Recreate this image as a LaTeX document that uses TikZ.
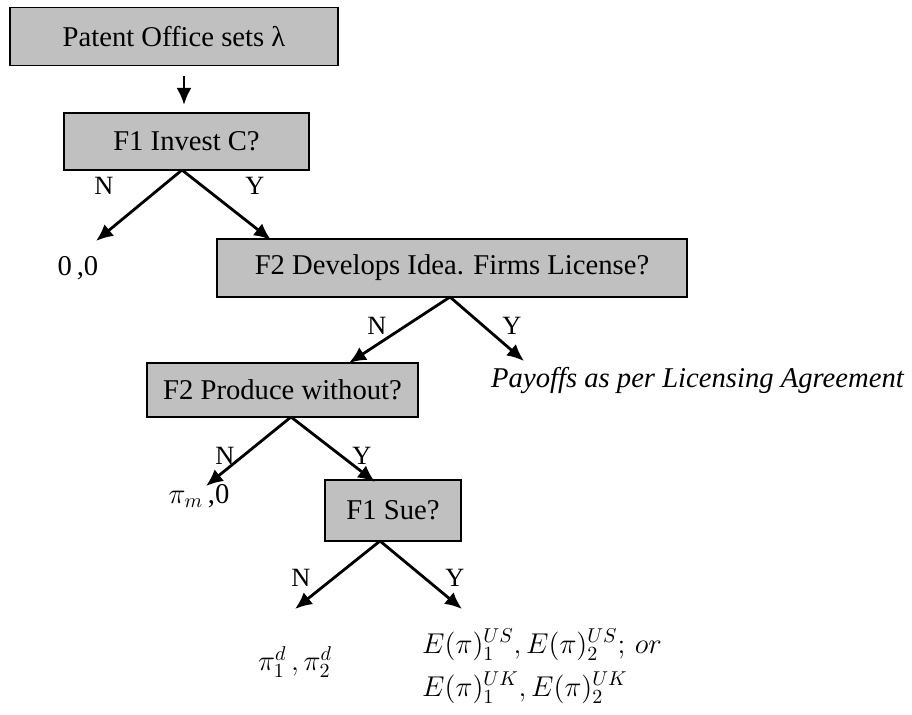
\documentclass[tikz,border=0pt]{standalone}
\usepackage{fix-cm}
\usepackage{fontspec}
\setmainfont{Liberation Serif}
\usetikzlibrary{arrows.meta}
\definecolor{boxgray}{RGB}{192,192,192}
\tikzset{
  choice/.style={draw, fill=boxgray, line width=1.1pt, minimum height=1.16cm,
    inner sep=0pt, font=\fontsize{16.3}{19}\selectfont},
  branch/.style={line width=1.6pt, -{Latex[length=3.4mm,width=3mm]}},
  yn/.style={font=\fontsize{15}{18}\selectfont},
  payoff/.style={inner sep=0.5pt, font=\fontsize{16.3}{19}\selectfont}
}

\begin{document}
\begin{tikzpicture}[x=0.02cm,y=-0.02cm]
\useasboundingbox (0,0) rectangle (912,715);
% decision boxes
\node[choice, minimum width=6.56cm] (office) at (174,36.5) {Patent Office sets λ};
\node[choice, minimum width=4.9cm, minimum height=1.14cm] (invest) at (186.5,141.5) {F1 Invest C?};
\node[choice, minimum width=9.4cm] (license) at (452,268) {F2 Develops Idea. Firms License?};
\node[choice, minimum width=5.42cm, minimum height=1.08cm] (produce) at (282.5,390) {F2 Produce without?};
\node[choice, minimum width=2.72cm, minimum height=1.22cm] (sue) at (393,510.5) {F1 Sue?};
% payoffs
\node[payoff] (zero) at (78,268) {0\,,0};
\node[payoff, font=\fontsize{16.3}{19}\selectfont\itshape] (agree) at (697.5,381) {Payoffs as per Licensing Agreement};
\node[payoff] (mono) at (199,496) {$\pi_m$\,,0};
\node[payoff] (duo) at (295,662) {$\pi_1^d\,,\pi_2^d$};
\node[payoff, anchor=base west] (court) at (421,653) {$E(\pi)_1^{US},E(\pi)_2^{US};\,or$};
\node[payoff, anchor=base west] (courtuk) at (421,696) {$E(\pi)_1^{UK},E(\pi)_2^{UK}$};
% fork points and arrow ends
\coordinate (o1) at (184,76);
\coordinate (o2) at (184,105);
\coordinate (f1) at (182,170);
\coordinate (f2) at (450,297);
\coordinate (f3) at (291,417);
\coordinate (f4) at (380,541);
\coordinate (zeroend) at (96,241);
\coordinate (licend) at (271,240);
\coordinate (prodend) at (349,363);
\coordinate (agreeend) at (524,361);
\coordinate (monoend) at (206,486);
\coordinate (sueend) at (375,482);
\coordinate (duoend) at (295,609);
\coordinate (courtend) at (462,609);
% connectors
\draw[branch] (o1) -- (o2);
\draw[branch] (f1) -- (zeroend);
\draw[branch] (f1) -- (licend);
\draw[branch] (f2) -- (prodend);
\draw[branch] (f2) -- (agreeend);
\draw[branch] (f3) -- (monoend);
\draw[branch] (f3) -- (sueend);
\draw[branch] (f4) -- (duoend);
\draw[branch] (f4) -- (courtend);
% labels
\node[yn] (n1) at (104,186) {N};
\node[yn] (y1) at (255,186) {Y};
\node[yn] (n2) at (377,326) {N};
\node[yn] (y2) at (512,326) {Y};
\node[yn] (n3) at (225,456) {N};
\node[yn] (y3) at (362,456) {Y};
\node[yn] (n4) at (301,578) {N};
\node[yn] (y4) at (455,578) {Y};
\end{tikzpicture}
\end{document}
